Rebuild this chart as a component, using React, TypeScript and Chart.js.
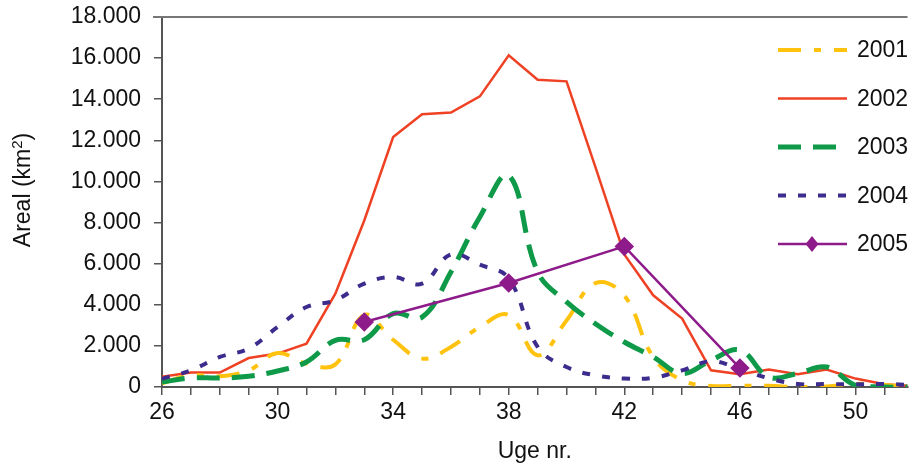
import React, { useEffect, useRef } from "react";
import { Chart, registerables } from "chart.js";

Chart.register(...registerables);

const weeks = [26, 27, 28, 29, 30, 31, 32, 33, 34, 35, 36, 37, 38, 39, 40, 41, 42, 43, 44, 45, 46, 47, 48, 49, 50, 51, 52];
const y2001 = [180, 570, 520, 810, 1650, 1140, 1100, 3500, 2300, 1380, 1950, 2920, 3500, 1540, 3240, 5050, 4450, 1450, 330, 50, 60, 60, 0, 20, 150, 100, 0];
const y2002 = [500, 700, 700, 1410, 1625, 2110, 4540, 8100, 12160, 13270, 13350, 14140, 16140, 14950, 14870, 10700, 6450, 4460, 3330, 810, 620, 850, 620, 850, 410, 130, 50];
const y2003 = [240, 440, 440, 520, 780, 1220, 2270, 2300, 3570, 3400, 5600, 8270, 10300, 5600, 4140, 3080, 2190, 1460, 660, 1300, 1790, 490, 660, 970, 80, 0, 0];
const y2004 = [400, 810, 1460, 1870, 2920, 3890, 4220, 5030, 5350, 5030, 6450, 5950, 5280, 1950, 970, 570, 410, 450, 810, 1250, 880, 420, 150, 140, 130, 140, 100];
const weeks2005 = [33, 38, 42, 46];
const y2005 = [3160, 5060, 6840, 920];

const seriesLabels = ["2001", "2002", "2003", "2004", "2005"];
const yTicks = [0, 2000, 4000, 6000, 8000, 10000, 12000, 14000, 16000, 18000];
const xLabelWeeks = [26, 30, 34, 38, 42, 46, 50];

const FONT = "'Liberation Sans', Arial, sans-serif";

const toPts = (xs: number[], ys: number[]) => xs.map((x, i) => ({ x, y: ys[i] }));

export default function App() {
  const ref = useRef<HTMLCanvasElement | null>(null);

  useEffect(() => {
    const canvas = ref.current;
    if (!canvas) return;

    const legendPlugin = {
      id: "customLegend",
      afterDraw(chart: any) {
        const ctx = chart.ctx;
        const { left, right, top } = chart.chartArea;
        ctx.save();
        // top border line
        ctx.strokeStyle = "#777";
        ctx.lineWidth = 2;
        ctx.beginPath();
        ctx.moveTo(left - 9, top);
        ctx.lineTo(right, top);
        ctx.stroke();

        // legend
        const ds = chart.data.datasets;
        for (let i = 0; i < ds.length; i++) {
          const d = ds[i];
          const y = 50 + i * 48.5;
          ctx.strokeStyle = d.borderColor;
          ctx.lineWidth = d.borderWidth;
          ctx.setLineDash(d.borderDash || []);
          ctx.beginPath();
          ctx.moveTo(778, y);
          ctx.lineTo(847, y);
          ctx.stroke();
          ctx.setLineDash([]);
          if (d.pointRadius > 0) {
            ctx.fillStyle = d.borderColor;
            const r = d.pointRadius;
            ctx.beginPath();
            ctx.moveTo(812, y - r);
            ctx.lineTo(812 + r * 0.8, y);
            ctx.lineTo(812, y + r);
            ctx.lineTo(812 - r * 0.8, y);
            ctx.closePath();
            ctx.fill();
          }
          ctx.fillStyle = "#111";
          ctx.font = `23px ${FONT}`;
          ctx.textAlign = "left";
          ctx.textBaseline = "middle";
          ctx.fillText(d.label, 857, y + 1);
        }

        // y-axis title
        ctx.translate(24, 190);
        ctx.rotate(-Math.PI / 2);
        ctx.fillStyle = "#111";
        ctx.textBaseline = "middle";
        ctx.textAlign = "left";
        const main = "Areal (km";
        const sup = "2";
        const end = ")";
        ctx.font = `23px ${FONT}`;
        const w1 = ctx.measureText(main).width;
        const w3 = ctx.measureText(end).width;
        ctx.font = `15px ${FONT}`;
        const w2 = ctx.measureText(sup).width;
        const total = w1 + w2 + w3;
        let x = -total / 2;
        ctx.font = `23px ${FONT}`;
        ctx.fillText(main, x, 0);
        x += w1;
        ctx.font = `15px ${FONT}`;
        ctx.fillText(sup, x, -6);
        x += w2;
        ctx.font = `23px ${FONT}`;
        ctx.fillText(end, x, 0);
        ctx.restore();
      },
    };

    const chart = new Chart(canvas, {
      type: "line",
      data: {
        datasets: [
          {
            label: seriesLabels[0],
            data: toPts(weeks, y2001),
            borderColor: "#FFC20E",
            borderWidth: 4,
            borderDash: [23, 13, 7, 13],
            tension: 0.4,
            pointRadius: 0,
            order: 3,
          },
          {
            label: seriesLabels[1],
            data: toPts(weeks, y2002),
            borderColor: "#EF4123",
            borderWidth: 2.5,
            tension: 0,
            pointRadius: 0,
            order: 4,
          },
          {
            label: seriesLabels[2],
            data: toPts(weeks, y2003),
            borderColor: "#0E9A48",
            borderWidth: 5,
            borderDash: [23, 12],
            tension: 0.4,
            pointRadius: 0,
            order: 2,
          },
          {
            label: seriesLabels[3],
            data: toPts(weeks, y2004),
            borderColor: "#3D2C8D",
            borderWidth: 4,
            borderDash: [8, 12],
            tension: 0.4,
            pointRadius: 0,
            order: 1,
          },
          {
            label: seriesLabels[4],
            data: toPts(weeks2005, y2005),
            borderColor: "#8E1B8A",
            backgroundColor: "#8E1B8A",
            borderWidth: 2.5,
            tension: 0,
            pointRadius: 8,
            pointStyle: "rectRot",
            pointBackgroundColor: "#8E1B8A",
            pointBorderColor: "#8E1B8A",
            order: 0,
          },
        ] as any,
      },
      options: {
        animation: false,
        responsive: false,
        devicePixelRatio: 1,
        layout: { padding: { left: 0, right: 0, top: 17, bottom: 0 } },
        plugins: {
          legend: { display: false },
          tooltip: { enabled: false },
        },
        scales: {
          x: {
            type: "linear",
            min: 26,
            max: 51.8,
            afterFit: (s: any) => {
              s.height = 78;
              s.paddingLeft = 0;
              s.paddingRight = 0;
            },
            border: { color: "#555", width: 2 },
            grid: { drawOnChartArea: false, drawTicks: true, tickLength: 8, color: "#555", lineWidth: 1.5 },
            ticks: {
              stepSize: 1,
              includeBounds: false,
              autoSkip: false,
              maxRotation: 0,
              padding: 4,
              color: "#111",
              font: { size: 23, family: FONT },
              callback: (v: any) => (xLabelWeeks.includes(Number(v)) ? String(v) : ""),
            },
            title: {
              display: true,
              text: "Uge nr.",
              color: "#111",
              font: { size: 23, family: FONT },
              padding: { top: 0, bottom: 0 },
            },
          },
          y: {
            min: 0,
            max: 18000,
            afterFit: (s: any) => {
              s.width = 162;
              s.paddingTop = 0;
              s.paddingBottom = 0;
            },
            afterBuildTicks: (s: any) => {
              s.ticks = yTicks.map((v) => ({ value: v }));
            },
            border: { color: "#555", width: 2 },
            grid: { drawOnChartArea: false, drawTicks: true, tickLength: 8, color: "#555", lineWidth: 1.5 },
            ticks: {
              padding: 13,
              color: "#111",
              font: { size: 23, family: FONT },
              callback: (v: any) => (Number(v) === 0 ? "0" : `${Number(v) / 1000}.000`),
            },
          },
        },
      },
      plugins: [legendPlugin],
    } as any);

    return () => chart.destroy();
  }, []);

  return (
    <div style={{ position: "fixed", left: 0, top: 0, width: 918, height: 465, background: "#fff" }}>
      <canvas ref={ref} width={918} height={465} style={{ width: 918, height: 465, display: "block" }} />
    </div>
  );
}
